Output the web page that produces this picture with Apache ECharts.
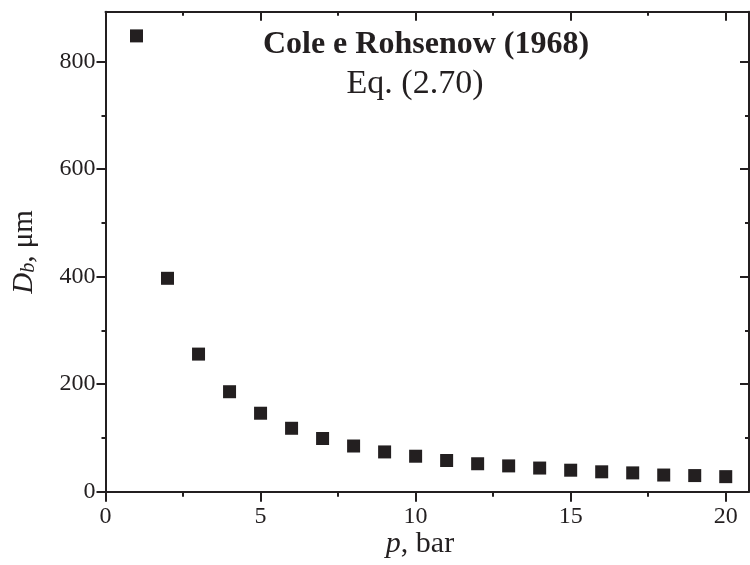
<!DOCTYPE html>
<html>
<head>
<meta charset="utf-8">
<script src="https://cdn.jsdelivr.net/npm/echarts@6/dist/echarts.min.js"></script>
<style>
  html, body { margin: 0; padding: 0; background: #ffffff; }
  #chart { width: 750px; height: 565px; }
</style>
</head>
<body>
<div id="chart"></div>
<script>
// data
const pressure = [1, 2, 3, 4, 5, 6, 7, 8, 9, 10, 11, 12, 13, 14, 15, 16, 17, 18, 19, 20];
const diameter = [848, 397, 256, 186, 146, 118, 99, 85, 74, 66, 58, 52, 48, 44, 40, 37, 35, 31, 30, 28];

const xTicks = [0, 5, 10, 15, 20];
const xMinorTicks = [2.5, 7.5, 12.5, 17.5];
const yTicks = [0, 200, 400, 600, 800];
const yMinorTicks = [100, 300, 500, 700];

const titleText = "Cole e Rohsenow (1968)";
const subtitleText = "Eq. (2.70)";

const INK = "#231f20";
const FONT = "'Liberation Serif', 'Times New Roman', serif";

// one axis: frame line + labels, or only a set of ticks
const makeAxis = (position, range, ticks, tickLen, opts = {}) => ({
  type: "value",
  position,
  min: range[0],
  max: range[1],
  axisLine: {show: !!opts.line, onZero: false, lineStyle: {color: INK, width: 2}},
  axisTick: {
    show: true,
    inside: !!opts.inside,
    length: tickLen,
    customValues: ticks,
    lineStyle: {color: INK, width: 2},
  },
  axisLabel: opts.labels
    ? {show: true, customValues: ticks, color: INK, fontFamily: FONT, fontSize: 24, margin: opts.margin}
    : {show: false},
  splitLine: {show: false},
});

const xRange = [0, 20.75];
const yRange = [0, 893];

const chart = echarts.init(document.getElementById("chart"), null, {renderer: "canvas"});

chart.setOption({
  animation: false,
  backgroundColor: "#ffffff",
  grid: {left: 105.5, right: 1, top: 11.7, bottom: 73.3, containLabel: false, outerBoundsMode: "none"},
  xAxis: [
    makeAxis("bottom", xRange, xTicks, 10, {line: true, labels: true, margin: 13}),
    makeAxis("bottom", xRange, xMinorTicks, 5),
    makeAxis("top", xRange, xTicks, 9, {line: true, inside: true}),
    makeAxis("top", xRange, xMinorTicks, 4, {inside: true}),
  ],
  yAxis: [
    makeAxis("left", yRange, yTicks, 9, {line: true, labels: true, margin: 10}),
    makeAxis("left", yRange, yMinorTicks, 4),
    makeAxis("right", yRange, yTicks, 9, {line: true, inside: true}),
    makeAxis("right", yRange, yMinorTicks, 4, {inside: true}),
  ],
  series: [
    {
      type: "scatter",
      xAxisIndex: 0,
      yAxisIndex: 0,
      symbol: "rect",
      symbolSize: 13,
      itemStyle: {color: INK, opacity: 1},
      data: pressure.map((p, i) => [p, diameter[i]]),
    },
  ],
  graphic: [
    {
      type: "text",
      x: 426,
      y: 45,
      style: {
        text: titleText,
        fontFamily: FONT,
        fontSize: 32,
        fontWeight: "bold",
        fill: INK,
        align: "center",
        verticalAlign: "middle",
      },
    },
    {
      type: "text",
      x: 415,
      y: 84,
      style: {
        text: subtitleText,
        fontFamily: FONT,
        fontSize: 34,
        fill: INK,
        align: "center",
        verticalAlign: "middle",
      },
    },
    {
      // x axis title
      type: "text",
      x: 420,
      y: 544,
      style: {
        text: "{i|p}{n|, bar}",
        align: "center",
        verticalAlign: "middle",
        rich: {
          i: {fontFamily: FONT, fontSize: 30, fontStyle: "italic", fill: INK},
          n: {fontFamily: FONT, fontSize: 30, fill: INK},
        },
      },
    },
    {
      // y axis title, D with italic subscript b
      type: "text",
      x: 24,
      y: 252,
      rotation: Math.PI / 2,
      style: {
        text: "{i|D}{s|b}{n|, μm}",
        align: "center",
        verticalAlign: "middle",
        rich: {
          i: {fontFamily: FONT, fontSize: 29, fontStyle: "italic", fill: INK, verticalAlign: "bottom"},
          s: {fontFamily: FONT, fontSize: 20, fontStyle: "italic", fill: INK, verticalAlign: "bottom"},
          n: {fontFamily: FONT, fontSize: 29, fill: INK, verticalAlign: "bottom"},
        },
      },
    },
  ],
});
</script>
</body>
</html>
